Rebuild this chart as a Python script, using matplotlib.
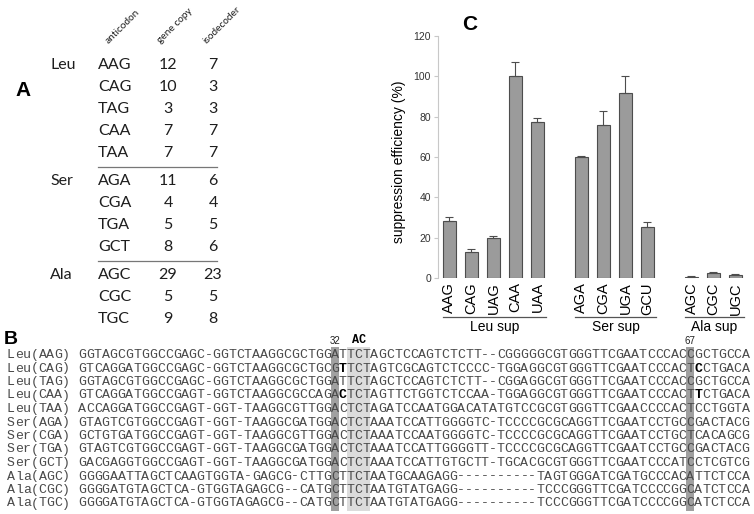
import numpy as np
import matplotlib.pyplot as plt
from matplotlib.patches import Rectangle

# ---- panel A: tRNA gene table ----
amino = ['Leu', 'Ser', 'Ala']
anticodons = [['AAG', 'CAG', 'TAG', 'CAA', 'TAA'],
              ['AGA', 'CGA', 'TGA', 'GCT'],
              ['AGC', 'CGC', 'TGC']]
gene_copy = [[12, 10, 3, 7, 7], [11, 4, 5, 8], [29, 5, 9]]
isodecoder = [[7, 3, 3, 7, 7], [6, 4, 5, 6], [23, 5, 8]]
headers = ['anticodon', 'gene copy', 'isodecoder']

# ---- panel C: suppression efficiency ----
sup_codons = ['AAG', 'CAG', 'UAG', 'CAA', 'UAA', 'AGA', 'CGA', 'UGA', 'GCU',
              'AGC', 'CGC', 'UGC']
efficiency = [28.2, 13.1, 19.7, 100.2, 77.3, 59.9, 76.0, 91.7, 25.3, 0.5, 2.3, 1.7]
eff_err = [2.2, 1.3, 1.1, 6.8, 2.0, 0.8, 7.0, 8.3, 2.5, 0.3, 0.5, 0.4]
groups = ['Leu sup', 'Ser sup', 'Ala sup']
group_size = [5, 4, 3]

# ---- panel B: alignment ----
seq_names = ['Leu(AAG)', 'Leu(CAG)', 'Leu(TAG)', 'Leu(CAA)', 'Leu(TAA)',
             'Ser(AGA)', 'Ser(CGA)', 'Ser(TGA)', 'Ser(GCT)',
             'Ala(AGC)', 'Ala(CGC)', 'Ala(TGC)']
seqs = [
    'GGTAGCGTGGCCGAGC-GGTCTAAGGCGCTGGATTCTAGCTCCAGTCTCTT--CGGGGGCGTGGGTTCGAATCCCACCGCTGCCA',
    'GTCAGGATGGCCGAGC-GGTCTAAGGCGCTGCGTTCTAGTCGCAGTCTCCCC-TGGAGGCGTGGGTTCGAATCCCACTCCTGACA',
    'GGTAGCGTGGCCGAGC-GGTCTAAGGCGCTGGATTCTAGCTCCAGTCTCTT--CGGAGGCGTGGGTTCGAATCCCACCGCTGCCA',
    'GTCAGGATGGCCGAGT-GGTCTAAGGCGCCAGACTCTAGTTCTGGTCTCCAA-TGGAGGCGTGGGTTCGAATCCCACTTCTGACA',
    'ACCAGGATGGCCGAGT-GGT-TAAGGCGTTGGACTCTAGATCCAATGGACATATGTCCGCGTGGGTTCGAACCCCACTCCTGGTA',
    'GTAGTCGTGGCCGAGT-GGT-TAAGGCGATGGACTCTAAATCCATTGGGGTC-TCCCCGCGCAGGTTCGAATCCTGCCGACTACG',
    'GCTGTGATGGCCGAGT-GGT-TAAGGCGTTGGACTCTAAATCCAATGGGGTC-TCCCCGCGCAGGTTCGAATCCTGCTCACAGCG',
    'GTAGTCGTGGCCGAGT-GGT-TAAGGCGATGGACTCTAAATCCATTGGGGTT-TCCCCGCGCAGGTTCGAATCCTGCCGACTACG',
    'GACGAGGTGGCCGAGT-GGT-TAAGGCGATGGACTCTAAATCCATTGTGCTT-TGCACGCGTGGGTTCGAATCCCATCCTCGTCG',
    'GGGGAATTAGCTCAAGTGGTA-GAGCG-CTTGCTTCTAATGCAAGAGG----------TAGTGGGATCGATGCCCACATTCTCCA',
    'GGGGATGTAGCTCA-GTGGTAGAGCG--CATGCTTCTAATGTATGAGG----------TCCCGGGTTCGATCCCCGGCATCTCCA',
    'GGGGATGTAGCTCA-GTGGTAGAGCG--CATGCTTCTAATGTATGAGG----------TCCCGGGTTCGATCCCCGGCATCTCCA',
]
dark_cols = [34, 79]          # alignment columns (1-based)
dark_labels = ['32', '67']
light_cols = [36, 37, 38]
bold_cells = [(1, 34), (1, 79), (3, 34), (3, 79)]

W, H = 754, 514
fig = plt.figure(figsize=(W / 100, H / 100), dpi=100)


def px_axes(x0, y0, x1, y1):
    return fig.add_axes([x0 / W, 1 - y1 / H, (x1 - x0) / W, (y1 - y0) / H])


# ---------- panel A ----------
axA = px_axes(0, 0, W, H)
axA.set_xlim(0, W)
axA.set_ylim(H, 0)
axA.axis('off')
tfont = 'Lato'
tcol = '#1e1e1e'
axA.text(23, 90, 'A', fontsize=15, fontweight='bold', family='Liberation Sans',
         ha='center', va='center')
for hx, h in zip([110, 162, 208], headers):
    axA.text(hx, 45, h, rotation=45, rotation_mode='anchor', ha='left',
             va='bottom', fontsize=7.3, family=tfont, color=tcol)
y = 65
for g, aa in enumerate(amino):
    if g > 0:
        axA.plot([98, 217], [y - 14, y - 14], color='#777777', lw=0.9)
    axA.text(50, y, aa, fontsize=11.5, family=tfont, va='center', ha='left', color=tcol)
    for ac, gc, iso in zip(anticodons[g], gene_copy[g], isodecoder[g]):
        axA.text(98, y, ac, fontsize=11.5, family=tfont, va='center', ha='left', color=tcol)
        axA.text(168, y, str(gc), fontsize=11.5, family=tfont, va='center', ha='center', color=tcol)
        axA.text(213, y, str(iso), fontsize=11.5, family=tfont, va='center', ha='center', color=tcol)
        y += 22
    y += 6
axA.text(11, 340, 'B', fontsize=14, fontweight='bold', family='Liberation Sans',
         ha='center', va='center')
axA.text(470, 24, 'C', fontsize=15, fontweight='bold', family='Liberation Sans',
         ha='center', va='center')

# ---------- panel C ----------
pos = []
p = 0
for n in group_size:
    pos += list(range(p, p + n))
    p += n + 1
pos = np.array(pos)

axC = px_axes(438, 36, 746.5, 278)
axC.bar(pos, efficiency, width=0.6, color='#9b9b9b', edgecolor='#4d4d4d', lw=0.8)
axC.errorbar(pos, efficiency, yerr=[np.zeros(len(eff_err)), eff_err], fmt='none',
             ecolor='#4d4d4d', elinewidth=0.8, capsize=3, capthick=0.8)
axC.set_xlim(-0.52, 13.5)
axC.set_ylim(0, 120)
axC.set_yticks(range(0, 121, 20))
for s in ['top', 'right', 'bottom']:
    axC.spines[s].set_visible(False)
axC.spines['left'].set_color('#c8c8c8')
axC.tick_params(axis='y', length=3, color='#c8c8c8', labelsize=7.5, labelcolor='#333333', pad=2)
axC.set_xticks(pos)
axC.set_xticklabels(sup_codons, rotation=90, fontsize=10.5, family='Liberation Sans')
axC.tick_params(axis='x', length=0, pad=3)
for lab in axC.get_yticklabels():
    lab.set_family('Liberation Sans')
axC.set_ylabel('suppression efficiency (%)', fontsize=10, family='Liberation Sans')
axC.yaxis.set_label_coords(-0.105, 0.48)

start = 0
for name, n in zip(groups, group_size):
    x0, x1 = pos[start] - 0.3, pos[start + n - 1] + 0.4
    axC.plot([x0, x1], [-19.3, -19.3], color='#555555', lw=0.9, clip_on=False)
    axC.text((pos[start] + pos[start + n - 1]) / 2 + 0.05, -20.8, name, ha='center', va='top',
             fontsize=10, family='Liberation Sans', clip_on=False)
    start += n

# ---------- panel B ----------
ncols = 9 + len(seqs[0])
cw = 7.9
rh = 13.5
axB = px_axes(7, 330, 7 + ncols * cw, H)
axB.set_xlim(0, ncols)
axB.set_ylim((H - 355) / rh, (330 - 355) / rh)
axB.axis('off')
nrows = len(seqs)
top = -0.6
for c in dark_cols:
    axB.add_patch(Rectangle((8 + c - 1, top), 1, nrows - top - 0.45, color='#a0a0a0', lw=0, zorder=0))
axB.add_patch(Rectangle((8 + light_cols[0] - 1, top), len(light_cols), nrows - top - 0.45,
                        color='#dcdcdc', lw=0, zorder=0))
for c, lab in zip(dark_cols, dark_labels):
    axB.text(8 + c - 0.5, -1.05, lab, fontsize=7, family='Liberation Sans',
             ha='center', va='center', color='#222222')
axB.text(8 + light_cols[1] - 0.5, -1.1, 'AC', fontsize=8.5, family='Liberation Mono',
         fontweight='bold', ha='center', va='center')

seq_color = '#4a4a4a'
for r, (name, s) in enumerate(zip(seq_names, seqs)):
    row = name + ' ' + s
    for i, ch in enumerate(row):
        if ch == ' ':
            continue
        bold = (r, i - 8) in bold_cells
        axB.text(i + 0.5, r, ch, fontsize=9.5, family='Liberation Mono',
                 ha='center', va='center',
                 color='black' if bold else seq_color,
                 fontweight='bold' if bold else 'normal')

fig.savefig('out.png', dpi=100)
